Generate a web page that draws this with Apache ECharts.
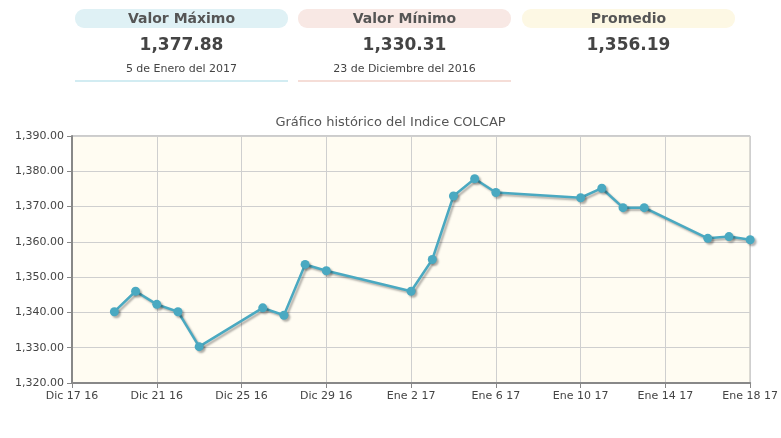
<!DOCTYPE html>
<html><head><meta charset="utf-8">
<script src="https://cdn.jsdelivr.net/npm/echarts@6/dist/echarts.min.js"></script>
<style>
body{margin:0;background:#fff;font-family:"DejaVu Sans",sans-serif;color:#444;}
.card{position:absolute;top:9px;width:213px;text-align:center;}
.pill{height:19px;line-height:19px;border-radius:9px;font-weight:bold;font-size:14px;color:#555;}
.val{font-weight:bold;font-size:17px;margin-top:6px;color:#444;}
.date{font-size:11px;margin-top:8px;padding-bottom:5px;color:#444;}
#chart{position:absolute;left:0;top:0;width:781px;height:438px;}
</style></head><body>
<div id="chart"></div>
<div class="card" style="left:75px"><div class="pill" style="background:#dff1f5">Valor Máximo</div><div class="val">1,377.88</div><div class="date" style="border-bottom:2px solid #d2ecf2">5 de Enero del 2017</div></div>
<div class="card" style="left:298px"><div class="pill" style="background:#f8e8e4">Valor Mínimo</div><div class="val">1,330.31</div><div class="date" style="border-bottom:2px solid #f5ddd7">23 de Diciembre del 2016</div></div>
<div class="card" style="left:522px"><div class="pill" style="background:#fdf8e4">Promedio</div><div class="val">1,356.19</div></div>
<script>
var dates = ['2016-12-19','2016-12-20','2016-12-21','2016-12-22','2016-12-23','2016-12-26','2016-12-27','2016-12-28','2016-12-29',
  '2017-01-02','2017-01-03','2017-01-04','2017-01-05','2017-01-06','2017-01-10','2017-01-11','2017-01-12','2017-01-13',
  '2017-01-16','2017-01-17','2017-01-18'];
var values = [1340.2,1346.0,1342.3,1340.2,1330.3,1341.3,1339.2,1353.6,1351.8,
  1346.0,1355.0,1373.0,1377.9,1374.0,1372.5,1375.2,1369.7,1369.7,
  1361.0,1361.5,1360.6];
var months = ['Ene','Feb','Mar','Abr','May','Jun','Jul','Ago','Sep','Oct','Nov','Dic'];
var start = Date.UTC(2016,11,17);
var DAY = 86400000;
function dayIndex(s){ return Math.round((Date.parse(s+'T00:00:00Z')-start)/DAY); }
function dayLabel(i){ var d=new Date(start+i*DAY); return months[d.getUTCMonth()]+' '+d.getUTCDate()+' '+String(d.getUTCFullYear()).slice(2); }
var data = dates.map(function(d,i){ return [dayIndex(d), values[i]]; });

var myChart = echarts.init(document.getElementById('chart'));
myChart.setOption({
  title:{text:'Gráfico histórico del Indice COLCAP',left:'center',top:111,textStyle:{fontSize:13,fontWeight:'normal',color:'#555',fontFamily:'DejaVu Sans'}},
  grid:{left:72,right:25,top:136,bottom:55,show:true,backgroundColor:'#fffcf2',borderColor:'#999',borderWidth:1},
  xAxis:{type:'value',min:0,max:32,interval:4,
    axisLine:{lineStyle:{color:'#888',width:2}},axisTick:{show:true,length:5,lineStyle:{color:'#888'}},
    splitLine:{show:true,lineStyle:{color:'#cfcfcf'}},
    axisLabel:{formatter:dayLabel,color:'#444',fontSize:11,fontFamily:'DejaVu Sans',margin:8}},
  yAxis:{type:'value',min:1320,max:1390,interval:10,
    axisLine:{show:true,lineStyle:{color:'#888',width:2}},axisTick:{show:true,length:5,lineStyle:{color:'#888'}},
    splitLine:{show:true,lineStyle:{color:'#cfcfcf'}},
    axisLabel:{formatter:function(v){return echarts.format.addCommas(v.toFixed(2));},color:'#444',fontSize:11,fontFamily:'DejaVu Sans'}},
  series:[{type:'line',data:data,symbol:'circle',symbolSize:9,
    lineStyle:{color:'#4aa9c1',width:2.5,shadowColor:'rgba(0,0,0,0.3)',shadowOffsetX:2,shadowOffsetY:2,shadowBlur:2},
    itemStyle:{color:'#4aa9c1',shadowColor:'rgba(0,0,0,0.3)',shadowOffsetX:2,shadowOffsetY:2,shadowBlur:2}}]
});
</script>
</body></html>
